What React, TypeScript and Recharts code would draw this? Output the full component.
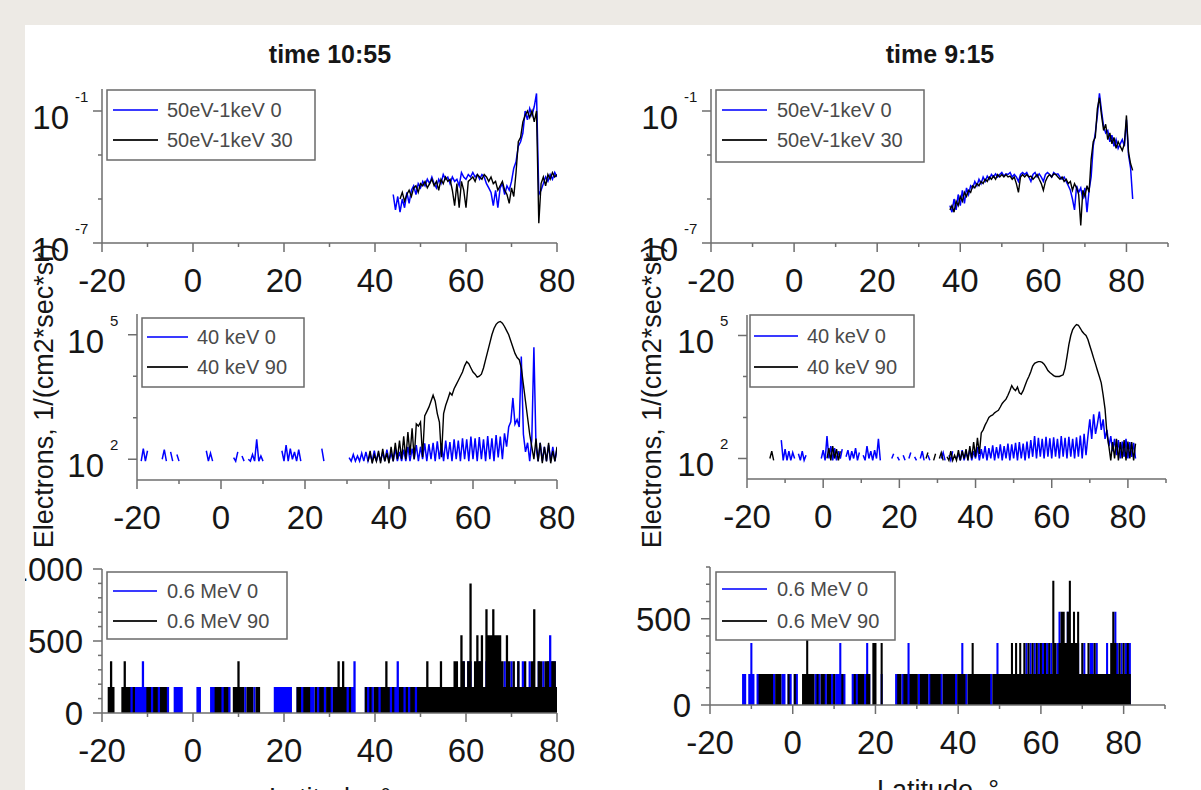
import React from 'react';
import { ComposedChart, Line, Area, XAxis, YAxis } from 'recharts';

const FONT = '"Liberation Sans", Arial, Helvetica, sans-serif';
const AXIS = '#6e6e6e';
const TXT = '#161616';
const BLUE = '#0000ff';
const BLACK = '#000000';
const STEP = 0.5; // latitude sampling of every series, degrees
const TICK_FONT = 33;

// ---------- axes ----------
const xTicksLeft = [-20, -10, 0, 10, 20, 30, 40, 50, 60, 70, 80];
const xTicksRight = [-20, -10, 0, 10, 20, 30, 40, 50, 60, 70, 80, 90];
const xLabels = [-20, 0, 20, 40, 60, 80];
const lowTicks = [1e-7, 1e-5, 1e-3, 1e-1];
const lowLabels = [1e-7, 1e-1];
const midTicks = [1e2, 1e3, 1e4, 1e5];
const midLabels = [1e2, 1e5];
const hiTicksLeft = [0, 100, 200, 300, 400, 500, 600, 700, 800, 900, 1000];
const hiLabelsLeft = [0, 500, 1000];
const hiTicksRight = [0, 100, 200, 300, 400, 500, 600, 700, 800];
const hiLabelsRight = [0, 500];

// ---------- text ----------
const titles = ['time 10:55', 'time 9:15'];
const yTitle = 'Electrons, 1/(cm2*sec*sr)';
const xTitle = 'Latitude, \u00b0';
const lowNames = ['50eV-1keV 0', '50eV-1keV 30'];
const midNames = ['40 keV 0', '40 keV 90'];
const hiNames = ['0.6 MeV 0', '0.6 MeV 90'];

// ---------- time 10:55, 50eV-1keV ----------
const t1LowPitch0Start = 44;
const t1LowPitch0 = [
  1.6e-5, 3.2e-6, 1.3e-5, 2.5e-6, 1e-5, 4e-6, 2e-5, 6.3e-6, 2.5e-5, 4e-5,
  1.6e-5, 5e-5, 3.2e-5, 6.3e-5, 4e-5, 7.9e-5, 5e-5, 1e-4, 5e-5, 3.2e-5,
  7.9e-5, 5e-5, 1.3e-4, 7.9e-5, 1e-4, 5e-5, 1e-4, 6.3e-5, 7.9e-5, 4e-5,
  1.6e-4, 1e-4, 7.9e-5, 1.3e-4, 1e-4, 1.6e-4, 1e-4, 1.3e-4, 7.9e-5, 1.3e-4,
  1e-4, 5e-5, 3.2e-5, 2e-5, 5e-6, 2.5e-5, 4e-6, 3.2e-5, 5e-5, 1.6e-5,
  4e-5, 2.5e-5, 6.3e-5, 2.5e-4, 5e-4, 2.5e-3, 4e-3, 1e-2, 0.1, 4e-2,
  0.13, 6.3e-2, 0.16, 0.63, 1.6e-5, 2.5e-5, 5e-5, 1e-4, 6.3e-5, 1.3e-4,
  7.9e-5, 1.6e-4, 1e-4,
];
const t1LowPitch30Start = 45.5;
const t1LowPitch30 = [
  1e-5, 2e-5, 7.9e-6, 1.6e-5, 2.5e-5, 1.3e-5, 3.2e-5, 4e-5, 2e-5, 5e-5,
  4e-5, 6.3e-5, 3.2e-5, 5e-5, 7.9e-5, 4e-5, 6.3e-5, 2.5e-5, 7.9e-5, 5e-5,
  1e-4, 6.3e-5, 7.9e-5, 2.5e-5, 5e-6, 5e-5, 4e-6, 6.3e-5, 2.5e-5, 4e-6,
  6.3e-5, 7.9e-5, 1e-4, 6.3e-5, 1.3e-4, 1e-4, 7.9e-5, 1.3e-4, 1e-4, 6.3e-5,
  1e-4, 5e-5, 6.3e-5, 2.5e-5, 4e-5, 6.3e-5, 2.5e-5, 1.6e-5, 6.3e-6, 3.2e-5,
  1.3e-5, 1.6e-4, 4e-3, 6.3e-3, 3.2e-2, 6.3e-2, 0.1, 5e-2, 0.1, 3.2e-2,
  0.1, 7.9e-7, 5e-5, 1e-4, 4e-5, 1.3e-4, 7.9e-5, 1.6e-4, 1e-4, 1.3e-4,
];

// ---------- time 10:55, 40 keV ----------
const t1MidPitch0Start = -19;
const t1MidPitch0 = [
  90, 180, 90, 160, null, null, null, null, null, null,
  100, 170, 90, null, 150, 90, null, 130, 90, null,
  null, null, null, null, null, null, null, null, null, null,
  null, 160, 90, 140, 90, null, null, null, null, null,
  null, null, 100, null, 110, 90, 150, null, 120, 90,
  null, 100, 90, 130, 90, 300, 90, 120, 90, null,
  100, null, null, null, null, null, null, 160, 90, 220,
  90, 180, 100, 150, 90, 170, 90, null, null, null,
  null, null, null, null, null, null, 180, 90, null, null,
  null, null, null, null, null, null, null, null, null, 110,
  90, 130, 90, 120, 90, 140, 90, 150, 90, 130,
  90, 160, 90, 140, 90, 150, 90, 170, 90, 140,
  90, 180, 90, 150, 90, 170, 90, 200, 90, 180,
  100, 220, 90, 200, 100, 240, 90, 230, 100, 250,
  90, 270, 100, 240, 90, 280, 100, 260, 90, 300,
  100, 280, 90, 320, 100, 300, 90, 350, 100, 320,
  90, 340, 100, 300, 90, 360, 100, 320, 90, 380,
  110, 350, 100, 420, 200, 600, 800, 3000, 700, 900,
  600, 30000, 400, 150, 250, 90, 300, 50000, 200, 90,
  250, 90, 200, 90, 220, 90, 200, 90, 180,
];
const t1MidPitch90Start = 35;
const t1MidPitch90 = [
  89, 160, 80, 126, 89, 160, 80, 178, 89, 141,
  80, 200, 89, 250, 100, 280, 100, 355, 100, 450,
  126, 560, 100, 710, 630, 790, 112, 1100, 1400, 1800,
  2500, 3500, 2500, 1260, 790, 112, 1260, 2000, 2800, 4000,
  3500, 5000, 6300, 7900, 10000, 12600, 17800, 22400, 20000, 15800,
  12600, 11200, 9500, 10000, 11200, 15800, 25100, 39800, 63000, 100000,
  141000, 178000, 200000, 209000, 190000, 158000, 126000, 100000, 71000, 50000,
  35500, 28200, 25100, 15800, 6300, 2500, 1000, 400, 200, 100,
  316, 89, 250, 80, 200, 89, 250, 80, 160, 89, 200,
];

// ---------- time 10:55, 0.6 MeV ----------
const t1HiStart = -19;
const t1HiPitch0 = [
  0, 0, 0, 0, 0, 0, 0, 0, 0, 180,
  180, 180, 180, 180, 180, 180, 360, 180, 180, 180,
  180, 180, 180, 180, 180, 180, 180, 180, 0, 0,
  180, 180, 180, 180, 0, 0, 0, 0, 0, 0,
  180, 180, 0, 0, 0, 0, 180, 180, 180, 180,
  180, 180, 180, 180, 180, 0, 0, 180, 180, 0,
  0, 180, 0, 0, 0, 180, 0, 0, 0, 0,
  0, 0, 0, 0, 180, 180, 180, 180, 180, 180,
  180, 180, 0, 0, 180, 180, 180, 180, 0, 180,
  180, 180, 0, 180, 180, 180, 180, 0, 180, 180,
  0, 180, 180, 180, 180, 180, 180, 180, 180, 360,
  0, 0, 0, 0, 180, 180, 180, 180, 0, 180,
  180, 180, 180, 180, 180, 180, 180, 180, 360, 180,
  180, 180, 180, 180, 180, 180, 180, 180, 180, 180,
  180, 180, 180, 180, 180, 180, 180, 180, 180, 180,
  180, 180, 180, 180, 180, 180, 180, 360, 180, 360,
  360, 180, 180, 180, 360, 180, 180, 360, 180, 180,
  180, 360, 180, 180, 180, 360, 180, 180, 360, 180,
  180, 360, 180, 360, 180, 180, 360, 180, 180, 180,
  360, 180, 360, 180, 360, 540, 360, 360, 0,
];
const t1HiPitch90 = [
  0, 180, 360, 180, 0, 0, 0, 180, 360, 180,
  180, 0, 180, 0, 0, 0, 0, 0, 180, 180,
  0, 180, 180, 0, 180, 180, 180, 0, 0, 0,
  0, 0, 0, 0, 0, 0, 0, 0, 0, 0,
  0, 0, 0, 0, 0, 0, 0, 0, 180, 180,
  180, 0, 180, 180, 0, 0, 180, 180, 360, 180,
  180, 0, 180, 180, 180, 0, 180, 180, 0, 0,
  0, 0, 0, 0, 0, 0, 0, 0, 0, 0,
  0, 0, 0, 0, 180, 180, 0, 180, 180, 180,
  0, 0, 180, 0, 180, 180, 0, 180, 180, 0,
  180, 180, 360, 180, 360, 180, 0, 180, 0, 0,
  0, 0, 0, 0, 180, 0, 180, 0, 180, 180,
  0, 180, 180, 360, 180, 0, 180, 0, 0, 180,
  180, 0, 180, 0, 180, 180, 0, 180, 180, 180,
  180, 360, 180, 180, 180, 180, 180, 360, 180, 180,
  180, 180, 180, 360, 360, 180, 540, 360, 180, 360,
  900, 180, 360, 540, 360, 540, 180, 720, 540, 540,
  720, 540, 540, 540, 360, 180, 540, 360, 180, 360,
  180, 360, 180, 180, 360, 180, 180, 360, 720, 180,
  360, 360, 180, 360, 360, 180, 360, 360, 180,
];

// ---------- time 9:15, 50eV-1keV ----------
const t2LowStart = 37.5;
const t2LowPitch0 = [
  5e-6, 2.5e-6, 1e-5, 3.2e-6, 1.6e-5, 5e-6, 2.5e-5, 6.3e-6, 3.2e-5, 1.6e-5,
  4e-5, 3.2e-5, 6.3e-5, 4e-5, 7.9e-5, 5e-5, 1e-4, 6.3e-5, 1.1e-4, 7.9e-5,
  1.3e-4, 1e-4, 1.4e-4, 1e-4, 1.3e-4, 1.6e-4, 1.1e-4, 1.4e-4, 1.3e-4, 1.6e-4,
  1e-4, 1.3e-4, 1e-4, 6.3e-5, 1.3e-4, 1.6e-4, 1.3e-4, 1.6e-4, 1e-4, 6.3e-5,
  1.3e-4, 1.6e-4, 1e-4, 1.4e-4, 1e-4, 6.3e-5, 1.3e-4, 1.6e-4, 1.3e-4, 1e-4,
  1.6e-4, 1.3e-4, 1.4e-4, 1e-4, 7.9e-5, 1e-4, 6.3e-5, 4e-5, 2.5e-5, 1e-5,
  3.2e-6, 4e-5, 2e-5, 3.2e-5, 1e-5, 3.2e-5, 2.5e-6, 2.5e-5, 1e-4, 2.5e-3,
  1e-2, 6.3e-2, 0.63, 0.1, 2e-2, 1e-2, 1.3e-2, 4e-3, 7.9e-3, 2.5e-3,
  5e-3, 2e-3, 3.2e-3, 5e-3, 2.5e-3, 4e-2, 1e-3, 2.5e-4, 1e-5,
];
const t2LowPitch30 = [
  3.2e-6, 5e-6, 2.5e-6, 7.9e-6, 5e-6, 1.3e-5, 7.9e-6, 2e-5, 1.3e-5, 2.5e-5,
  2e-5, 4e-5, 3.2e-5, 5e-5, 4e-5, 6.3e-5, 5e-5, 7.9e-5, 6.3e-5, 1e-4,
  7.9e-5, 1.1e-4, 7.9e-5, 1.3e-4, 1e-4, 1.3e-4, 1e-4, 1.3e-4, 1e-4, 1.1e-4,
  7.9e-5, 1e-4, 5e-5, 2e-5, 1e-4, 1.3e-4, 1e-4, 1.3e-4, 1e-4, 1.1e-4,
  7.9e-5, 1e-4, 1.3e-4, 7.9e-5, 5e-5, 2.5e-5, 6.3e-5, 1e-4, 1.3e-4, 1e-4,
  1.4e-4, 1.3e-4, 1e-4, 7.9e-5, 1e-4, 6.3e-5, 7.9e-5, 5e-5, 6.3e-5, 2.5e-5,
  5e-5, 3.2e-5, 1.6e-5, 6.3e-7, 2.5e-5, 1.3e-5, 4e-5, 2e-5, 6.3e-4, 4e-3,
  6.3e-3, 0.13, 0.4, 6.3e-2, 1.3e-2, 2.5e-2, 5e-3, 1e-2, 3.2e-3, 6.3e-3,
  2e-3, 4e-3, 2.5e-3, 1.6e-3, 3.2e-3, 6.3e-2, 1.3e-3, 4e-4, 2e-4,
];

// ---------- time 9:15, 40 keV ----------
const t2MidPitch0Start = -11;
const t2MidPitch0 = [
  280, 90, 170, 90, 150, 90, 140, 100, null, 130,
  90, 150, 90, 120, null, 110, null, null, null, null,
  null, 100, 160, 90, 350, 100, 200, 90, 180, 90,
  150, 100, 170, null, 110, 160, 90, 150, 100, 180,
  90, 140, null, 120, 90, 200, 100, 150, 90, 160,
  100, 300, 90, null, null, null, null, null, 100, 130,
  null, 110, 90, null, 120, 90, null, 100, 140, null,
  110, 90, null, 100, 150, 90, null, 120, 90, null,
  null, null, null, null, 100, 140, 90, null, 120, 90,
  150, null, 100, 130, 90, 160, 90, 140, 100, 170,
  90, 150, 100, 190, 90, 170, 100, 200, 90, 180,
  100, 210, 90, 190, 100, 220, 90, 200, 100, 230,
  90, 220, 100, 240, 90, 250, 100, 230, 90, 260,
  100, 280, 110, 350, 100, 320, 110, 300, 100, 340,
  110, 310, 100, 330, 110, 300, 100, 350, 110, 320,
  100, 340, 110, 300, 100, 330, 110, 360, 100, 400,
  120, 350, 900, 300, 1200, 400, 700, 1400, 500, 900,
  300, 500, 200, 350, 150, 300, 120, 280, 100, 260,
  110, 300, 100, 250, 110, 240, 100,
];
const t2MidPitch90Start = -14;
const t2MidPitch90 = [
  100, 150, 90, null, null, null, null, null, null, null,
  null, null, null, null, null, null, null, null, null, null,
  null, null, null, null, null, null, null, null, null, null,
  100, 180, 90, 200, 100, 170, 90, 150, null, null,
  null, null, null, null, null, null, null, null, null, null,
  null, null, null, null, null, null, null, null, null, null,
  null, null, null, null, null, null, null, null, null, null,
  null, null, null, null, null, null, null, null, null, null,
  null, null, 100, 140, null, null, 90, 130, null, 100,
  140, 90, null, 110, 90, 150, 90, 120, 90, 160,
  90, 150, 100, 170, 90, 200, 100, 250, 110, 320,
  130, 420, 500, 650, 800, 1000, 1100, 1150, 1300, 1400,
  1500, 1800, 2200, 2500, 2800, 3500, 4500, 6000, 5000, 4500,
  5500, 4000, 3700, 4500, 6000, 8000, 10000, 13000, 18000, 21000,
  22000, 23000, 23000, 22000, 20000, 17000, 14000, 12500, 11500, 10500,
  10000, 10000, 10000, 10500, 11000, 16000, 30000, 60000, 100000, 140000,
  165000, 185000, 178000, 150000, 125000, 110000, 100000, 80000, 56000, 40000,
  28000, 20000, 14000, 10000, 7000, 3500, 1600, 400, 200, 90,
  250, 100, 300, 90, 250, 100, 280, 90, 260, 100,
  250, 90, 230,
];

// ---------- time 9:15, 0.6 MeV ----------
const t2HiStart = -13;
const t2HiPitch0 = [
  0, 0, 180, 180, 0, 180, 360, 180, 0, 180,
  180, 0, 180, 0, 180, 0, 180, 180, 0, 180,
  0, 180, 180, 0, 180, 180, 0, 180, 180, 0,
  0, 0, 180, 180, 0, 180, 0, 180, 180, 180,
  0, 180, 180, 0, 0, 180, 0, 180, 180, 360,
  180, 180, 0, 0, 0, 180, 180, 180, 180, 0,
  180, 180, 360, 180, 0, 0, 0, 0, 0, 180,
  0, 0, 0, 0, 0, 0, 180, 180, 0, 180,
  180, 180, 360, 180, 0, 180, 0, 180, 180, 180,
  180, 0, 180, 180, 0, 180, 0, 180, 180, 0,
  180, 180, 0, 180, 180, 180, 0, 180, 360, 180,
  180, 0, 180, 180, 180, 0, 180, 180, 180, 180,
  180, 180, 180, 0, 180, 360, 180, 180, 180, 0,
  180, 180, 180, 180, 180, 180, 180, 180, 180, 360,
  180, 360, 180, 360, 180, 360, 180, 360, 180, 360,
  180, 360, 180, 180, 360, 540, 360, 360, 180, 540,
  360, 180, 360, 180, 360, 180, 180, 360, 180, 180,
  360, 360, 180, 360, 180, 180, 180, 180, 360, 180,
  180, 360, 540, 360, 180, 360, 180, 360, 360, 360,
  0,
];
const t2HiPitch90 = [
  0, 0, 0, 0, 0, 0, 0, 0, 0, 0,
  180, 180, 180, 180, 180, 180, 180, 0, 180, 180,
  180, 0, 0, 0, 180, 0, 0, 180, 0, 0,
  0, 180, 180, 380, 180, 180, 180, 0, 180, 0,
  180, 180, 0, 180, 180, 0, 180, 0, 0, 0,
  180, 0, 0, 0, 0, 0, 180, 0, 180, 180,
  180, 0, 180, 180, 0, 360, 360, 0, 0, 360,
  0, 0, 0, 0, 0, 0, 0, 180, 180, 0,
  180, 180, 0, 180, 180, 180, 180, 0, 180, 180,
  180, 180, 0, 180, 180, 180, 180, 180, 0, 180,
  180, 180, 180, 180, 180, 0, 180, 180, 180, 180,
  0, 180, 180, 360, 180, 180, 180, 180, 180, 180,
  180, 180, 0, 180, 180, 180, 180, 180, 180, 180,
  180, 180, 360, 180, 360, 180, 360, 180, 360, 180,
  360, 180, 360, 180, 360, 180, 360, 180, 360, 180,
  360, 180, 720, 360, 180, 360, 540, 540, 360, 540,
  720, 360, 540, 360, 540, 180, 360, 180, 180, 360,
  180, 180, 360, 180, 180, 180, 180, 180, 180, 180,
  360, 540, 360, 180, 360, 180, 360, 180, 360, 180,
  0,
];

// ---------- helpers ----------
type Series = { key: string; start: number; values: (number | null)[] };
function buildRows(series: Series[]) {
  const map = new Map<number, any>();
  series.forEach((s) => {
    s.values.forEach((v, i) => {
      const lat = Math.round((s.start + i * STEP) * 10) / 10;
      const row = map.get(lat) || { lat };
      row[s.key] = v;
      map.set(lat, row);
    });
  });
  return Array.from(map.values()).sort((a, b) => a.lat - b.lat);
}

const makeXTick = (labels: number[]) => (props: any) => {
  const { x, y, payload } = props;
  const v = payload.value;
  const major = labels.includes(v);
  return (
    <g>
      <line x1={x} y1={y} x2={x} y2={y + (major ? 9 : 4)} stroke={AXIS} strokeWidth={1.5} />
      {major && (
        <text x={x} y={y + 49} textAnchor="middle" fontSize={TICK_FONT} fontFamily={FONT} fill={TXT}>
          {String(v)}
        </text>
      )}
    </g>
  );
};

const makeLogTick = (labels: number[]) => (props: any) => {
  const { x, y, payload } = props;
  const v = payload.value;
  const major = labels.includes(v);
  const exp = Math.round(Math.log10(v));
  return (
    <g>
      <line x1={x - (major ? 9 : 4)} y1={y} x2={x} y2={y} stroke={AXIS} strokeWidth={1.5} />
      {major && (
        <g>
          <text x={x - 33} y={y + 18} textAnchor="end" fontSize={TICK_FONT} fontFamily={FONT} fill={TXT}>10</text>
          <text x={x - 27} y={y - 9} textAnchor="start" fontSize={15} fontFamily={FONT} fill={TXT}>{String(exp)}</text>
        </g>
      )}
    </g>
  );
};

const makeLinTick = (labels: number[]) => (props: any) => {
  const { x, y, payload } = props;
  const v = payload.value;
  const major = labels.includes(v);
  return (
    <g>
      <line x1={x - (major ? 9 : 4)} y1={y} x2={x} y2={y} stroke={AXIS} strokeWidth={1.5} />
      {major && (
        <text x={x - 19} y={y + 12} textAnchor="end" fontSize={TICK_FONT} fontFamily={FONT} fill={TXT}>
          {String(v)}
        </text>
      )}
    </g>
  );
};

type PanelCfg = {
  id: string;
  L: number; R: number; T: number; B: number;
  xDomain: number[]; xTicks: number[];
  yScale: 'log' | 'linear'; yDomain: number[]; yTicks: number[]; yLabels: number[];
  kind: 'line' | 'area';
  data: any[];
  legend: { left: number; top: number; w: number; h: number; rows: number[]; line: number[]; textX: number; names: string[] };
};

const panels: PanelCfg[] = [
  {
    id: 'p1', L: 102, R: 557, T: 89, B: 243, xDomain: [-20, 80], xTicks: xTicksLeft,
    yScale: 'log', yDomain: [1e-7, 1], yTicks: lowTicks, yLabels: lowLabels, kind: 'line',
    data: buildRows([
      { key: 'a', start: t1LowPitch0Start, values: t1LowPitch0 },
      { key: 'b', start: t1LowPitch30Start, values: t1LowPitch30 },
    ]),
    legend: { left: 107, top: 90, w: 208, h: 70, rows: [110, 140], line: [113, 158], textX: 167, names: lowNames },
  },
  {
    id: 'p2', L: 137, R: 557, T: 314, B: 480, xDomain: [-20, 80], xTicks: xTicksLeft,
    yScale: 'log', yDomain: [31.6, 316000], yTicks: midTicks, yLabels: midLabels, kind: 'line',
    data: buildRows([
      { key: 'a', start: t1MidPitch0Start, values: t1MidPitch0 },
      { key: 'b', start: t1MidPitch90Start, values: t1MidPitch90 },
    ]),
    legend: { left: 142, top: 318, w: 162, h: 69, rows: [337, 367], line: [147, 188], textX: 197, names: midNames },
  },
  {
    id: 'p3', L: 102, R: 557, T: 569, B: 713, xDomain: [-20, 80], xTicks: xTicksLeft,
    yScale: 'linear', yDomain: [0, 1000], yTicks: hiTicksLeft, yLabels: hiLabelsLeft, kind: 'area',
    data: buildRows([
      { key: 'a', start: t1HiStart, values: t1HiPitch0 },
      { key: 'b', start: t1HiStart, values: t1HiPitch90 },
    ]),
    legend: { left: 107, top: 572, w: 180, h: 67, rows: [591, 621], line: [113, 157], textX: 167, names: hiNames },
  },
  {
    id: 'p4', L: 711, R: 1168, T: 89, B: 243, xDomain: [-20, 90], xTicks: xTicksRight,
    yScale: 'log', yDomain: [1e-7, 1], yTicks: lowTicks, yLabels: lowLabels, kind: 'line',
    data: buildRows([
      { key: 'a', start: t2LowStart, values: t2LowPitch0 },
      { key: 'b', start: t2LowStart, values: t2LowPitch30 },
    ]),
    legend: { left: 716, top: 90, w: 208, h: 72, rows: [110, 140], line: [722, 767], textX: 777, names: lowNames },
  },
  {
    id: 'p5', L: 747, R: 1166, T: 315, B: 479, xDomain: [-20, 90], xTicks: xTicksRight,
    yScale: 'log', yDomain: [31.6, 316000], yTicks: midTicks, yLabels: midLabels, kind: 'line',
    data: buildRows([
      { key: 'a', start: t2MidPitch0Start, values: t2MidPitch0 },
      { key: 'b', start: t2MidPitch90Start, values: t2MidPitch90 },
    ]),
    legend: { left: 750, top: 315, w: 164, h: 72, rows: [336, 367], line: [754, 798], textX: 807, names: midNames },
  },
  {
    id: 'p6', L: 710, R: 1165, T: 567, B: 705, xDomain: [-20, 90], xTicks: xTicksRight,
    yScale: 'linear', yDomain: [0, 800], yTicks: hiTicksRight, yLabels: hiLabelsRight, kind: 'area',
    data: buildRows([
      { key: 'a', start: t2HiStart, values: t2HiPitch0 },
      { key: 'b', start: t2HiStart, values: t2HiPitch90 },
    ]),
    legend: { left: 716, top: 572, w: 179, h: 68, rows: [589, 621], line: [722, 767], textX: 777, names: hiNames },
  },
];

// space around each plot area: total, and the part taken by the axis boxes
const ML = 100, MT = 40, MR = 40, MB = 60;
const YW = 60, XH = 40;

function Panel({ cfg }: { cfg: PanelCfg }) {
  const width = cfg.R - cfg.L + ML + MR;
  const height = cfg.B - cfg.T + MT + MB;
  const yTick = cfg.yScale === 'log' ? makeLogTick(cfg.yLabels) : makeLinTick(cfg.yLabels);
  return (
    <div style={{ position: 'absolute', left: cfg.L - ML, top: cfg.T - MT, width, height }}>
      <ComposedChart width={width} height={height} data={cfg.data} margin={{ top: MT, right: MR, bottom: MB - XH, left: ML - YW }}>
        <XAxis
          type="number" dataKey="lat" domain={cfg.xDomain} ticks={cfg.xTicks} interval={0}
          allowDataOverflow height={XH} tickSize={0} tickMargin={0} tickLine={false}
          axisLine={{ stroke: AXIS, strokeWidth: 1.5 }} tick={makeXTick(xLabels)}
        />
        <YAxis
          type="number" scale={cfg.yScale} domain={cfg.yDomain} ticks={cfg.yTicks} interval={0}
          allowDataOverflow width={YW} tickSize={0} tickMargin={0} tickLine={false}
          axisLine={{ stroke: AXIS, strokeWidth: 1.5 }} tick={yTick}
        />
        {cfg.kind === 'line' ? (
          <Line dataKey="a" type="linear" stroke={BLUE} strokeWidth={1.5} dot={false} activeDot={false} isAnimationActive={false} connectNulls={false} />
        ) : (
          <Area dataKey="a" type="step" stroke="none" fill={BLUE} fillOpacity={1} dot={false} activeDot={false} isAnimationActive={false} />
        )}
        {cfg.kind === 'line' ? (
          <Line dataKey="b" type="linear" stroke={BLACK} strokeWidth={1.4} dot={false} activeDot={false} isAnimationActive={false} connectNulls={false} />
        ) : (
          <Area dataKey="b" type="step" stroke="none" fill={BLACK} fillOpacity={1} dot={false} activeDot={false} isAnimationActive={false} />
        )}
      </ComposedChart>
    </div>
  );
}

function Overlay() {
  return (
    <svg width={1201} height={790} style={{ position: 'absolute', left: 0, top: 0, pointerEvents: 'none' }}>
      <text x={330} y={63} textAnchor="middle" fontSize={25} fontWeight="bold" fontFamily={FONT} fill={TXT}>{titles[0]}</text>
      <text x={940} y={63} textAnchor="middle" fontSize={25} fontWeight="bold" fontFamily={FONT} fill={TXT}>{titles[1]}</text>
      <text x={44} y={396} dy="0.35em" textAnchor="middle" fontSize={27} fontFamily={FONT} fill={TXT} transform="rotate(-90 44 396)">{yTitle}</text>
      <text x={652} y={396} dy="0.35em" textAnchor="middle" fontSize={27} fontFamily={FONT} fill={TXT} transform="rotate(-90 652 396)">{yTitle}</text>
      <text x={330} y={807} textAnchor="middle" fontSize={27} fontFamily={FONT} fill={TXT}>{xTitle}</text>
      <text x={938} y={799} textAnchor="middle" fontSize={27} fontFamily={FONT} fill={TXT}>{xTitle}</text>
      {panels.map((p) => {
        const lg = p.legend;
        return (
          <g key={p.id + 'lg'}>
            <rect x={lg.left} y={lg.top} width={lg.w} height={lg.h} fill="#ffffff" stroke="#6a6a6a" strokeWidth={1.5} />
            {lg.names.map((n, i) => (
              <g key={n}>
                <line x1={lg.line[0]} y1={lg.rows[i]} x2={lg.line[1]} y2={lg.rows[i]} stroke={i === 0 ? '#3a3aff' : '#222'} strokeWidth={2} />
                <text x={lg.textX} y={lg.rows[i] + 7} fontSize={20} fontFamily={FONT} fill="#4a4a4a">{n}</text>
              </g>
            ))}
          </g>
        );
      })}
    </svg>
  );
}

export default function App() {
  return (
    <div style={{ position: 'absolute', left: 0, top: 0, width: 1201, height: 790, overflow: 'hidden', background: '#ffffff', fontFamily: FONT }}>
      {panels.map((p) => (
        <Panel key={p.id} cfg={p} />
      ))}
      <Overlay />
      <div style={{ position: 'absolute', left: 0, top: 0, width: 1201, height: 25, background: '#edeae5' }} />
      <div style={{ position: 'absolute', left: 0, top: 0, width: 25, height: 790, background: '#edeae5' }} />
    </div>
  );
}
